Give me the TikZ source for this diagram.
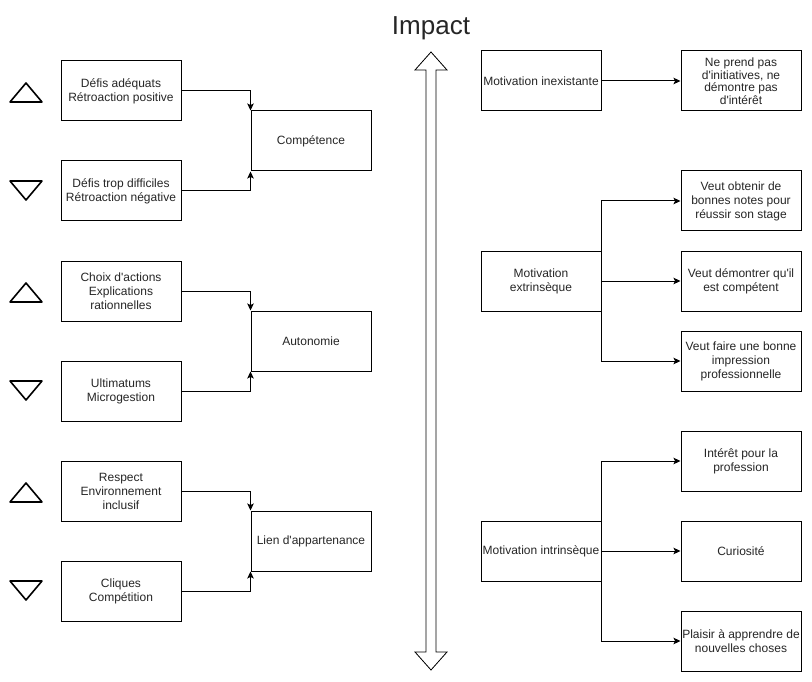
\documentclass[tikz,border=0pt]{standalone}
\usepackage{fontspec}
\setmainfont{Liberation Sans}
\usetikzlibrary{arrows.meta}
\newcommand{\aq}{\textquotesingle}
\begin{document}
\begin{tikzpicture}[x=1pt,y=-1pt,
  box/.style={draw=black,line width=1pt,fill=white,minimum width=120pt,minimum height=60pt,
    inner sep=1pt,align=center,font=\fontsize{12}{14}\selectfont,text=black!85},
  conn/.style={draw=black,line width=1pt,-{Stealth[length=7pt,width=6.5pt,inset=1.5pt]}},
  tri/.style={draw=black,line width=1.6pt,line join=round}]
\useasboundingbox (0,0) rectangle (812,682);
% title
\node[font=\fontsize{26}{30}\selectfont,text=black!85,anchor=base] (title) at (431,35) {Impact};
% double arrow
\draw[line width=0.8pt,fill=white,line join=miter] (431,52) -- (447,70) -- (436,70) -- (436,652) -- (447,652)
  -- (431,670) -- (415,652) -- (426,652) -- (426,70) -- (415,70) -- cycle;
% left column
\node[box] (a1) at (121,91) {Défis adéquats\\Rétroaction positive};
\node[box] (a2) at (121,191) {Défis trop difficiles\\Rétroaction négative};
\node[box] (b1) at (121,291) {Choix d\aq actions\\Explications\\rationnelles};
\node[box] (b2) at (121,391) {Ultimatums\\Microgestion};
\node[box] (c1) at (121,491) {Respect\\Environnement\\inclusif};
\node[box] (c2) at (121,591) {Cliques\\Compétition};
% middle
\node[box] (comp) at (311,141) {Compétence};
\node[box] (auto) at (311,341) {Autonomie};
\node[box] (lien) at (311,541) {Lien d\aq appartenance};
% triangles
\draw[tri] (10,102) -- (26,83) -- (42,102) -- cycle;
\draw[tri] (10,181) -- (42,181) -- (26,200) -- cycle;
\draw[tri] (10,302) -- (26,283) -- (42,302) -- cycle;
\draw[tri] (10,381) -- (42,381) -- (26,400) -- cycle;
\draw[tri] (10,502) -- (26,483) -- (42,502) -- cycle;
\draw[tri] (10,581) -- (42,581) -- (26,600) -- cycle;
% left connectors
\draw[conn] (a1.east) -| (comp.north west);
\draw[conn] (a2.east) -| (comp.south west);
\draw[conn] (b1.east) -| (auto.north west);
\draw[conn] (b2.east) -| (auto.south west);
\draw[conn] (c1.east) -| (lien.north west);
\draw[conn] (c2.east) -| (lien.south west);
% right side
\node[box] (mi) at (541,81) {Motivation inexistante};
\node[box,font=\fontsize{12}{12.5}\selectfont] (np) at (741,81) {Ne prend pas\\d\aq initiatives, ne\\démontre pas\\d\aq intérêt};
\node[box] (me) at (541,281) {Motivation\\extrinsèque};
\node[box] (e1) at (741,201) {Veut obtenir de\\bonnes notes pour\\réussir son stage};
\node[box] (e2) at (741,281) {Veut démontrer qu\aq il\\est compétent};
\node[box] (e3) at (741,361) {Veut faire une bonne\\impression\\professionnelle};
\node[box] (mn) at (541,551) {Motivation intrinsèque};
\node[box] (i1) at (741,461) {Intérêt pour la\\profession};
\node[box] (i2) at (741,551) {Curiosité};
\node[box] (i3) at (741,641) {Plaisir à apprendre de\\nouvelles choses};
\draw[conn] (mi.east) -- (np.west);
\draw[conn] (me.east) |- (e1.west);
\draw[conn] (me.east) -- (e2.west);
\draw[conn] (me.east) |- (e3.west);
\draw[conn] (mn.east) |- (i1.west);
\draw[conn] (mn.east) -- (i2.west);
\draw[conn] (mn.east) |- (i3.west);
\end{tikzpicture}
\end{document}
